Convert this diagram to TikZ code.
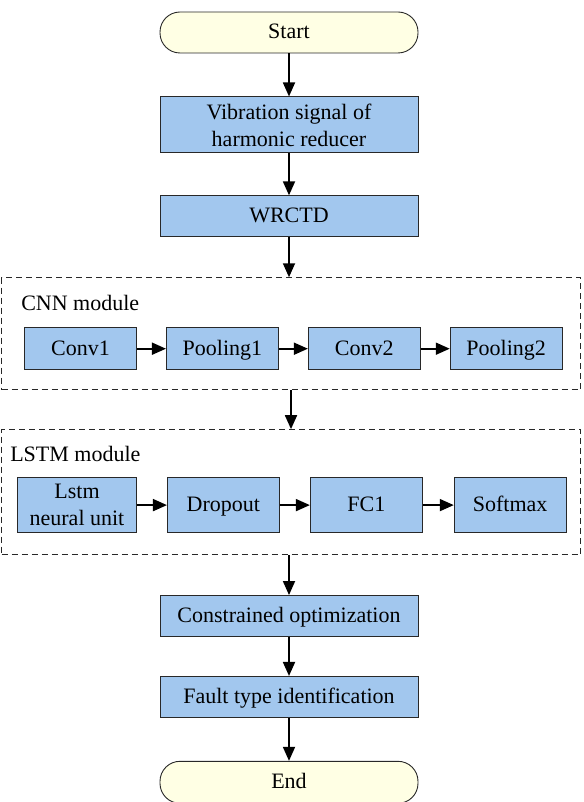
\documentclass[tikz,border=0pt]{standalone}
\usepackage{fontspec}
\setmainfont{Liberation Serif}
\usetikzlibrary{positioning,arrows.meta}

\definecolor{boxblue}{RGB}{162,199,238}
\definecolor{termyellow}{RGB}{255,255,228}
\definecolor{edgegray}{RGB}{40,40,40}

\tikzset{
    base/.style={draw=edgegray, line width=0.9pt, align=center,
        font=\fontsize{22}{27}\selectfont, inner sep=0pt},
    oneline/.style={text height=16.5pt, text depth=3.5pt},
    terminal/.style={base, oneline, fill=termyellow, rounded corners=20pt,
        minimum width=258pt, minimum height=41pt},
    process/.style={base, fill=boxblue, minimum width=258pt, minimum height=41pt},
    layer/.style={base, oneline, fill=boxblue, minimum width=112pt, minimum height=42pt},
    unit/.style={base, fill=boxblue, minimum width=112pt, minimum height=55pt},
    module/.style={draw=edgegray, line width=0.9pt, dash pattern=on 6pt off 4pt,
        minimum width=579pt, inner sep=0pt},
    modlabel/.style={font=\fontsize{22}{27}\selectfont, inner sep=0pt, anchor=west},
    flow/.style={-{Triangle[length=14pt, width=12pt]}, line width=1.8pt, black}
}

\begin{document}
\begin{tikzpicture}[node distance=41pt]
    \useasboundingbox (0,0) rectangle (583pt,-802pt);

    \node[terminal] (start) at (289pt,-32.5pt) {Start};
    \node[process, below=43pt of start, minimum height=56pt] (signal) {Vibration signal of\\harmonic reducer};
    \node[process, oneline, below=42pt of signal] (wrctd) {WRCTD};

    % CNN module
    \node[module, below=40pt of wrctd, xshift=2pt, minimum height=112pt] (cnn) {};
    \node[modlabel] (cnnlabel) at ([xshift=20pt, yshift=-26pt]cnn.north west) {CNN module};
    \node[layer, below right=50pt and 23pt of cnn.north west] (conv1) {Conv1};
    \node[layer, right=29pt of conv1] (pool1) {Pooling1};
    \node[layer, right=29pt of pool1] (conv2) {Conv2};
    \node[layer, right=29pt of conv2] (pool2) {Pooling2};

    % LSTM module
    \node[module, below=39pt of cnn, minimum height=125pt] (lstm) {};
    \node[modlabel] (lstmlabel) at ([xshift=9pt, yshift=-25pt]lstm.north west) {LSTM module};
    \node[unit, below right=48pt and 16pt of lstm.north west, minimum width=119pt] (cell) {Lstm\\neural unit};
    \node[unit, oneline, right=30pt of cell] (drop) {Dropout};
    \node[unit, oneline, right=30pt of drop] (fc) {FC1};
    \node[unit, oneline, right=31pt of fc] (soft) {Softmax};

    \node[process, oneline, below=40pt of lstm, xshift=-2pt] (optim) {Constrained optimization};
    \node[process, oneline, below=39pt of optim] (fault) {Fault type identification};
    \node[terminal, below=43pt of fault, minimum height=42pt] (end) {End};

    \draw[flow] (start) -- (signal);
    \draw[flow] (signal) -- (wrctd);
    \draw[flow] (wrctd.south) -- (wrctd.south |- cnn.north);
    \draw[flow] (conv1) -- (pool1);
    \draw[flow] (pool1) -- (conv2);
    \draw[flow] (conv2) -- (pool2);
    \draw[flow] (cnn.south) -- (lstm.north);
    \draw[flow] (cell) -- (drop);
    \draw[flow] (drop) -- (fc);
    \draw[flow] (fc) -- (soft);
    \draw[flow] (optim.north |- lstm.south) -- (optim.north);
    \draw[flow] (optim) -- (fault);
    \draw[flow] (fault) -- (end);
\end{tikzpicture}
\end{document}
